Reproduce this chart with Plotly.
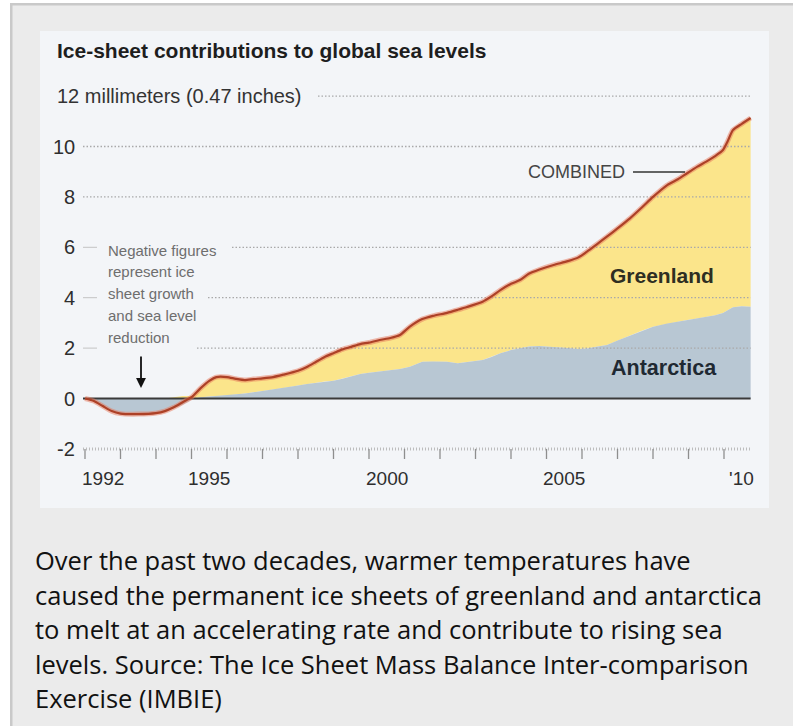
import plotly.graph_objects as go

# Cumulative contributions to global sea level, millimetres
years = [1992.0, 1992.25, 1992.5, 1992.75, 1993.0, 1993.5, 1994.0, 1994.25, 1994.5, 1994.75,
         1995.0, 1995.25, 1995.5, 1995.7, 1996.0, 1996.25, 1996.5, 1996.75, 1997.0, 1997.3,
         1997.6, 1998.0, 1998.25, 1998.5, 1998.75, 1999.0, 1999.25, 1999.5, 1999.75, 2000.0,
         2000.3, 2000.6, 2000.87, 2001.15, 2001.5, 2001.8, 2002.2, 2002.5, 2002.76, 2003.2,
         2003.45, 2003.7, 2004.0, 2004.25, 2004.5, 2004.8, 2005.2, 2005.6, 2005.9, 2006.14,
         2006.4, 2006.7, 2007.0, 2007.35, 2007.7, 2008.0, 2008.4, 2008.7, 2008.96, 2009.25,
         2009.5, 2009.75, 2009.97, 2010.1, 2010.25, 2010.5, 2010.75]

antarctica = [0.0, -0.1, -0.3, -0.5, -0.6, -0.62, -0.58, -0.5, -0.4, -0.25,
              -0.05, 0.05, 0.08, 0.1, 0.12, 0.15, 0.2, 0.25, 0.3, 0.35,
              0.42, 0.52, 0.58, 0.62, 0.67, 0.7, 0.78, 0.88, 0.97, 1.02,
              1.08, 1.12, 1.17, 1.26, 1.46, 1.47, 1.46, 1.4, 1.45, 1.53,
              1.65, 1.8, 1.92, 2.0, 2.06, 2.08, 2.05, 2.0, 1.96, 1.98,
              2.05, 2.12, 2.3, 2.5, 2.7, 2.85, 2.98, 3.05, 3.12, 3.17,
              3.22, 3.3, 3.39, 3.5, 3.62, 3.66, 3.64]

greenland = [0.0, 0.0, 0.0, 0.0, 0.0, 0.0, 0.0, 0.0, 0.05, 0.1,
             0.1, 0.35, 0.62, 0.75, 0.73, 0.63, 0.53, 0.52, 0.5, 0.5,
             0.53, 0.58, 0.67, 0.83, 0.98, 1.1, 1.17, 1.17, 1.19, 1.2,
             1.24, 1.28, 1.35, 1.59, 1.69, 1.81, 1.94, 2.12, 2.18, 2.31,
             2.4, 2.5, 2.63, 2.7, 2.89, 3.04, 3.25, 3.45, 3.64, 3.85,
             4.05, 4.3, 4.45, 4.65, 4.9, 5.15, 5.49, 5.65, 5.82, 6.03,
             6.18, 6.32, 6.47, 6.7, 7.03, 7.24, 7.49]

y_tick_values = [10, 8, 6, 4, 2, 0, -2]
y_tick_labels = ["10", "8", "6", "4", "2", "0", "-2"]
x_label_years = [1992, 1995, 2000, 2005, 2010]
x_label_texts = ["1992", "1995", "2000", "2005", "'10"]
note_lines = ["Negative figures", "represent ice", "sheet growth", "and sea level", "reduction"]
caption_lines = [
    "Over the past two decades, warmer temperatures have",
    "caused the permanent ice sheets of greenland and antarctica",
    "to melt at an accelerating rate and contribute to rising sea",
    "levels. Source: The Ice Sheet Mass Balance Inter-comparison",
    "Exercise (IMBIE)",
]

combined = [a + g for a, g in zip(antarctica, greenland)]

# ---- page geometry (pixels) ----
W, H = 793, 726
X_PX0, X_SCALE = 85.0, 35.5    # pixel of 1992.0, pixels per year
Y_PX0, Y_SCALE = 398.5, 25.2   # pixel of 0 mm, pixels per mm


def xd(px):
    return 1992 + (px - X_PX0) / X_SCALE


def yd(py):
    return (Y_PX0 - py) / Y_SCALE


def xp(px):
    return px / W


def yp(py):
    return 1 - py / H


FONT = "Liberation Sans, Arial, sans-serif"
YELLOW = "#fbe58b"
BLUEGRAY = "#b8c7d3"
LINE_RED = "#ad4127"
GRID = "#a9a9a9"

fig = go.Figure()

# Greenland band sits on top of the positive part of Antarctica
lower = [max(a, 0.0) for a in antarctica]
upper = [lo + g for lo, g in zip(lower, greenland)]
fig.add_trace(go.Scatter(
    x=years + years[::-1], y=upper + lower[::-1],
    mode="lines", fill="toself", fillcolor=YELLOW,
    line=dict(width=0), hoverinfo="skip"))

# Antarctica band measured from zero
fig.add_trace(go.Scatter(
    x=years, y=antarctica, mode="lines", fill="tozeroy", fillcolor=BLUEGRAY,
    line=dict(width=0), hoverinfo="skip"))

# dotted gridlines, each starting clear of the text beside it
grid_start_px = {12: 318, 10: 83, 8: 83, 6: 232, 4: 208, 2: 197}
x_end = years[-1]
for v, sp in grid_start_px.items():
    fig.add_trace(go.Scatter(
        x=[xd(sp), x_end], y=[v, v], mode="lines",
        line=dict(color=GRID, width=1.3, dash="1.5px,2px"), hoverinfo="skip"))
for v in (6, 4, 2):
    fig.add_trace(go.Scatter(
        x=[xd(83), xd(97)], y=[v, v], mode="lines",
        line=dict(color="#c3c3c3", width=1), hoverinfo="skip"))

# monthly minor ticks along the bottom line
fig.add_trace(go.Scatter(
    x=[xd(83), x_end], y=[-2, -2], mode="lines",
    line=dict(color="#bdbdbd", width=3, dash="1px,2px"), hoverinfo="skip"))

# zero baseline
fig.add_trace(go.Scatter(
    x=[xd(83), x_end], y=[0, 0], mode="lines",
    line=dict(color="#3a3a3a", width=2.2), hoverinfo="skip"))

# combined line with a soft halo
fig.add_trace(go.Scatter(
    x=years, y=combined, mode="lines", line_shape="spline",
    line=dict(color="rgba(232,120,90,0.5)", width=5, smoothing=0.6), hoverinfo="skip"))
fig.add_trace(go.Scatter(
    x=years, y=combined, mode="lines", line_shape="spline",
    line=dict(color=LINE_RED, width=2.2, smoothing=0.6), hoverinfo="skip"))

shapes = []
# page frame and panel
shapes.append(dict(type="rect", xref="paper", yref="paper", layer="below",
                   x0=xp(10), x1=1, y0=0, y1=yp(3), fillcolor="#c9c9c9", line=dict(width=0)))
shapes.append(dict(type="rect", xref="paper", yref="paper", layer="below",
                   x0=xp(12.5), x1=1, y0=0, y1=yp(5.5), fillcolor="#ebebeb", line=dict(width=0)))
shapes.append(dict(type="rect", xref="paper", yref="paper", layer="below",
                   x0=xp(40), x1=xp(769), y0=yp(508), y1=yp(31), fillcolor="#f3f5f8",
                   line=dict(width=0)))

# yearly ticks under the bottom line
for yr in range(1992, 2011):
    shapes.append(dict(type="line", xref="x", yref="y", layer="above",
                       x0=yr, x1=yr, y0=-2, y1=yd(459),
                       line=dict(color="#8e8e8e", width=1.3)))

# leader from the COMBINED label to the line
shapes.append(dict(type="line", xref="x", yref="y", layer="above",
                   x0=xd(633), x1=xd(685), y0=yd(172), y1=yd(172),
                   line=dict(color="#333333", width=1.4)))

annotations = []
annotations.append(dict(xref="paper", yref="paper", x=xp(55), y=yp(50),
                        xanchor="left", yanchor="middle", showarrow=False,
                        text="<b>Ice-sheet contributions to global sea levels</b>",
                        font=dict(family=FONT, size=21, color="#1e1e1e")))
annotations.append(dict(xref="x", yref="y", x=xd(55), y=12,
                        xanchor="left", yanchor="middle", showarrow=False,
                        text="12 millimeters (0.47 inches)",
                        font=dict(family=FONT, size=20, color="#333333")))
for v, t in zip(y_tick_values, y_tick_labels):
    annotations.append(dict(xref="x", yref="y", x=xd(77), y=v,
                            xanchor="right", yanchor="middle", showarrow=False,
                            text=t, font=dict(family=FONT, size=20, color="#2e2e2e")))
for yr, t in zip(x_label_years, x_label_texts):
    annotations.append(dict(xref="x", yref="y", x=yr + 0.5, y=yd(478),
                            xanchor="center", yanchor="middle", showarrow=False,
                            text=t, font=dict(family=FONT, size=19, color="#2e2e2e")))
for i, t in enumerate(note_lines):
    annotations.append(dict(xref="x", yref="y", x=xd(106), y=yd(250 + 21.8 * i),
                            xanchor="left", yanchor="middle", showarrow=False,
                            text=t, font=dict(family=FONT, size=15, color="#6e6e6e")))
# downward arrow pointing at the negative area
annotations.append(dict(xref="x", yref="y", x=xd(141), y=yd(388), text="",
                        showarrow=True, axref="pixel", ayref="pixel", ax=0, ay=-33,
                        arrowhead=2, arrowsize=1.1, arrowwidth=1.8, arrowcolor="#111111"))
annotations.append(dict(xref="x", yref="y", x=xd(627), y=yd(172),
                        xanchor="right", yanchor="middle", showarrow=False,
                        text="COMBINED", font=dict(family=FONT, size=18, color="#454545")))
annotations.append(dict(xref="x", yref="y", x=xd(608), y=yd(275),
                        xanchor="left", yanchor="middle", showarrow=False,
                        text="<b>Greenland</b>", font=dict(family=FONT, size=21, color="#2e2e22")))
annotations.append(dict(xref="x", yref="y", x=xd(609), y=yd(368),
                        xanchor="left", yanchor="middle", showarrow=False,
                        text="<b>Antarctica</b>", font=dict(family=FONT, size=21.5, color="#1f2932")))
for i, t in enumerate(caption_lines):
    annotations.append(dict(xref="paper", yref="paper", x=xp(33), y=yp(560 + 34.5 * i),
                            xanchor="left", yanchor="middle", showarrow=False,
                            text=t, font=dict(family="Open Sans, Noto Sans, sans-serif", size=25.5,
                                              color="#111111")))

fig.update_layout(
    width=W, height=H,
    margin=dict(l=0, r=0, t=0, b=0, pad=0),
    paper_bgcolor="#ffffff", plot_bgcolor="rgba(0,0,0,0)",
    showlegend=False,
    xaxis=dict(range=[xd(0), xd(W)], visible=False, fixedrange=True),
    yaxis=dict(range=[yd(H), yd(0)], visible=False, fixedrange=True),
    shapes=shapes, annotations=annotations,
)

fig.write_html("out.html", config={"displayModeBar": False})
